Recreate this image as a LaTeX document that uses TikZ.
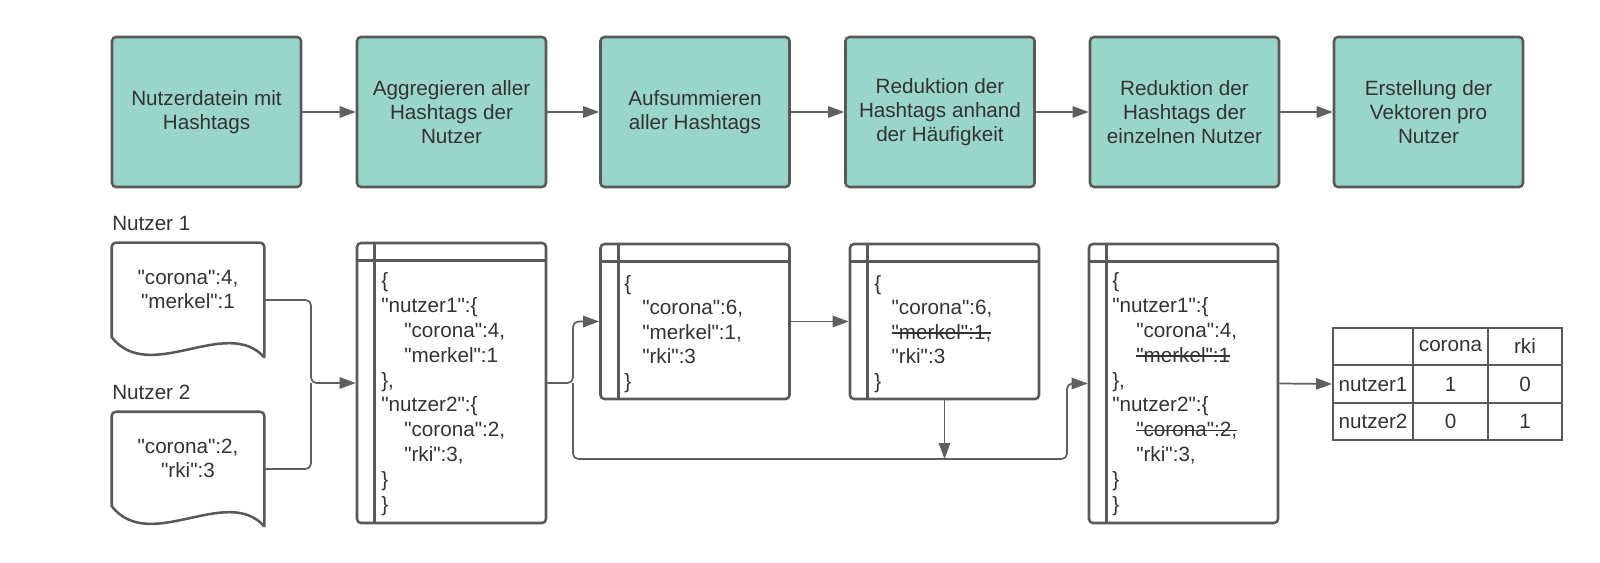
\documentclass[tikz,border=0pt]{standalone}
\usepackage{fontspec}
\setmainfont{Liberation Sans}
\newfontfamily\arialf{Liberation Sans}
\usetikzlibrary{arrows.meta,calc}
\definecolor{tealfill}{RGB}{154,213,202}
\definecolor{edgegray}{RGB}{89,89,89}
\definecolor{conngray}{RGB}{95,95,95}
\definecolor{txtgray}{RGB}{51,51,51}
\newsavebox\strikebox
\newcommand\strikeit[1]{\sbox\strikebox{#1}\rlap{\usebox\strikebox}\rule[0.27em]{\wd\strikebox}{0.07em}}
\begin{document}
\begin{tikzpicture}[x=0.75pt,y=-0.75pt,
  every node/.style={text=txtgray, font=\arialf\fontsize{15.5pt}{18pt}\selectfont},
  stepbox/.style={draw=edgegray, fill=tealfill, line width=1.9pt, rounded corners=3pt,
    minimum width=141.75pt, minimum height=112.5pt, align=center, inner sep=0pt},
  codebox/.style={draw=edgegray, line width=1.9pt, rounded corners=3pt, inner sep=0pt, minimum width=141.75pt},
  codeline/.style={draw=edgegray, line width=1.9pt},
  codetext/.style={anchor=base west, align=left, inner sep=0pt},
  docframe/.style={inner sep=0pt, minimum width=114pt, minimum height=85.5pt},
  docline/.style={draw=edgegray, line width=1.9pt, line join=round},
  conn/.style={draw=conngray, line width=1.3pt},
  arr/.style={conn, -{Triangle[length=12pt,width=8.5pt]}},
  cell/.style={draw=edgegray, line width=1.5pt, inner sep=0pt},
]
\useasboundingbox (0,0) rectangle (1600,563);

% ---- top process boxes
\node[stepbox] (b1) at (206.5,112) {Nutzerdatein mit\\Hashtags};
\node[stepbox] (b2) at (451.5,112) {Aggregieren aller\\Hashtags der\\Nutzer};
\node[stepbox] (b3) at (695,112) {Aufsummieren\\aller Hashtags};
\node[stepbox] (b4) at (940,112) {Reduktion der\\Hashtags anhand\\der Häufigkeit};
\node[stepbox] (b5) at (1184.5,112) {Reduktion der\\Hashtags der\\einzelnen Nutzer};
\node[stepbox] (b6) at (1428.5,112) {Erstellung der\\Vektoren pro\\Nutzer};
\foreach \a/\b in {b1/b2,b2/b3,b3/b4,b4/b5,b5/b6}
  \draw[arr] (\a.east) -- (\b.west);

% ---- user documents
\node[anchor=west, inner sep=0pt] (lab1) at (112,223) {Nutzer 1};
\node[anchor=west, inner sep=0pt] (lab2) at (112,392) {Nutzer 2};
\node[docframe] (doc1) at (188,300) {};
\node[docframe] (doc2) at (188,469) {};
\foreach \d in {doc1,doc2}
  \draw[docline] ($(\d.south west)+(0,-20)$) [rounded corners=3pt] -- (\d.north west) -- (\d.north east) [sharp corners] -- (\d.south east)
     .. controls ($(\d.south east)+(-38,-42)$) and ($(\d.south west)+(38,28)$) .. ($(\d.south west)+(0,-20)$) -- cycle;
\node[align=center, font=\arialf\fontsize{15.5pt}{18.4pt}\selectfont] (doc1text) at (188,289.5) {"corona":4,\\"merkel":1};
\node[align=center, font=\arialf\fontsize{15.5pt}{18.4pt}\selectfont] (doc2text) at (188,458.5) {"corona":2,\\"rki":3};

% ---- code boxes
\node[codebox, minimum height=210pt] (cb1) at (451.5,383) {};
\node[codebox, minimum height=116.25pt] (cb2) at (695,321.5) {};
\node[codebox, minimum height=116.25pt] (cb3) at (944.5,321.5) {};
\node[codebox, minimum height=209.25pt] (cb4) at (1183.5,383.5) {};
\foreach \c in {cb1,cb2,cb3,cb4}{
  \draw[codeline] ($(\c.north west)+(19,0)$) -- ($(\c.south west)+(19,0)$);
  \draw[codeline] ($(\c.north west)+(0,19)$) -- ($(\c.north east)+(0,19)$);
}
\node[codetext, font=\arialf\fontsize{15.5pt}{18.6pt}\selectfont] (cb1text) at (381,511) {%
\{\\
"nutzer1":\{\\
\hspace*{17.25pt}"corona":4,\\
\hspace*{17.25pt}"merkel":1\\
\},\\
"nutzer2":\{\\
\hspace*{17.25pt}"corona":2,\\
\hspace*{17.25pt}"rki":3,\\
\}\\
\}};
\node[codetext, font=\arialf\fontsize{15.5pt}{18.3pt}\selectfont] (cb2text) at (624,388) {%
\{\\
\hspace*{13.5pt}"corona":6,\\
\hspace*{13.5pt}"merkel":1,\\
\hspace*{13.5pt}"rki":3\\
\}};
\node[codetext, font=\arialf\fontsize{15.5pt}{18.3pt}\selectfont] (cb3text) at (874,388) {%
\{\\
\hspace*{13pt}"corona":6,\\
\hspace*{13pt}\strikeit{"merkel":1,}\\
\hspace*{13pt}"rki":3\\
\}};
\node[codetext, font=\arialf\fontsize{15.5pt}{18.6pt}\selectfont] (cb4text) at (1112,511) {%
\{\\
"nutzer1":\{\\
\hspace*{18pt}"corona":4,\\
\hspace*{18pt}\strikeit{"merkel":1}\\
\},\\
"nutzer2":\{\\
\hspace*{18pt}\strikeit{"corona":2,}\\
\hspace*{18pt}"rki":3,\\
\}\\
\}};

% ---- table
\node[cell, minimum width=60pt, minimum height=27.75pt] (t00) at (1373,346.5) {};
\node[cell, minimum width=56.25pt, minimum height=27.75pt] (t01) at (1450.5,346.5) {corona};
\node[cell, minimum width=55.5pt, minimum height=27.75pt] (t02) at (1525,346.5) {rki};
\node[cell, minimum width=60pt, minimum height=28.5pt] (t10) at (1373,384) {nutzer1};
\node[cell, minimum width=56.25pt, minimum height=28.5pt] (t11) at (1450.5,384) {1};
\node[cell, minimum width=55.5pt, minimum height=28.5pt] (t12) at (1525,384) {0};
\node[cell, minimum width=60pt, minimum height=27.75pt] (t20) at (1373,421.5) {nutzer2};
\node[cell, minimum width=56.25pt, minimum height=27.75pt] (t21) at (1450.5,421.5) {0};
\node[cell, minimum width=55.5pt, minimum height=27.75pt] (t22) at (1525,421.5) {1};

% ---- connectors
\coordinate (j1) at (311,383);
\coordinate (j2) at (573,383);
\coordinate (j3) at (1067,459);
\draw[conn, rounded corners=4pt] (doc2.east) -| (j1);
\draw[arr, rounded corners=4pt] (doc1.east) -| (j1) -- (cb1.west);
\draw[arr, rounded corners=4pt] (cb1.east) -- (j2) |- (cb2.west);
\draw[arr, rounded corners=4pt] (j2) |- (j3) |- (cb4.west);
\draw[arr] (cb2.east) -- (cb3.west);
\draw[arr] (cb3.south) -- (cb3.south |- j3);
\draw[arr] (cb4.east) -- (t10.west);
\end{tikzpicture}
\end{document}
